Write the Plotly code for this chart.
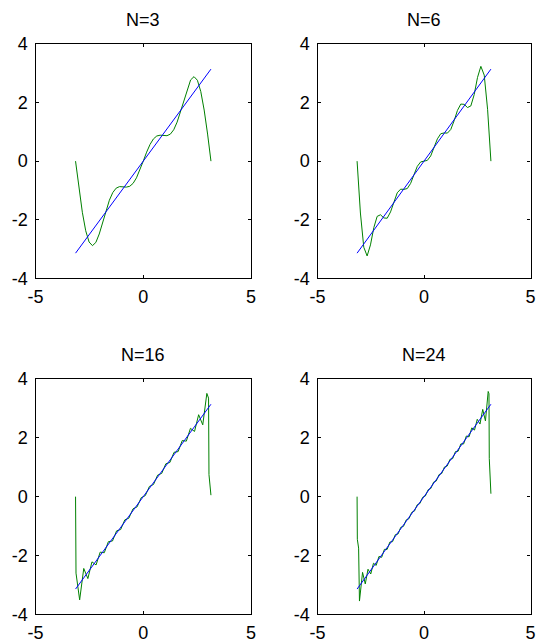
import plotly.graph_objects as go

# ---- data ----
titles = ["N=3", "N=6", "N=16", "N=24"]

line_x = [-3.1416, 3.1416]
line_y = [-3.1416, 3.1416]

x3 = [-3.142, -2.985, -2.827, -2.670, -2.513, -2.356, -2.199, -2.042, -1.885, -1.728,
      -1.571, -1.414, -1.257, -1.100, -0.942, -0.785, -0.628, -0.471, -0.314, -0.157,
      0.0, 0.157, 0.314, 0.471, 0.628, 0.785, 0.942, 1.100, 1.257, 1.414,
      1.571, 1.728, 1.885, 2.042, 2.199, 2.356, 2.513, 2.670, 2.827, 2.985, 3.142]
y3 = [0.0, -0.925, -1.745, -2.376, -2.761, -2.886, -2.775, -2.487, -2.098, -1.690,
      -1.333, -1.072, -0.922, -0.869, -0.873, -0.886, -0.859, -0.758, -0.570, -0.307,
      0.0, 0.307, 0.570, 0.758, 0.859, 0.886, 0.873, 0.869, 0.922, 1.072,
      1.333, 1.690, 2.098, 2.487, 2.775, 2.886, 2.761, 2.376, 1.745, 0.925, 0.0]

x6 = [-3.142, -2.985, -2.827, -2.670, -2.513, -2.356, -2.199, -2.042, -1.885, -1.728,
      -1.571, -1.414, -1.257, -1.100, -0.942, -0.785, -0.628, -0.471, -0.314, -0.157,
      0.0, 0.157, 0.314, 0.471, 0.628, 0.785, 0.942, 1.100, 1.257, 1.414,
      1.571, 1.728, 1.885, 2.042, 2.199, 2.356, 2.513, 2.670, 2.827, 2.985, 3.142]
y6 = [0.0, -1.771, -2.938, -3.237, -2.859, -2.270, -1.885, -1.831, -1.940, -1.949,
      -1.733, -1.379, -1.081, -0.958, -0.963, -0.936, -0.761, -0.462, -0.177, -0.026,
      0.0, 0.026, 0.177, 0.462, 0.761, 0.936, 0.963, 0.958, 1.081, 1.379,
      1.733, 1.949, 1.940, 1.831, 1.885, 2.270, 2.859, 3.237, 2.938, 1.771, 0.0]

x16 = [-3.1416, -3.12, -2.9512, -2.7608, -2.5704, -2.3800, -2.1896, -1.9992, -1.8088,
       -1.6184, -1.4280, -1.2376, -1.0472, -0.8568, -0.6664, -0.4760, -0.2856, -0.0952,
       0.0952, 0.2856, 0.4760, 0.6664, 0.8568, 1.0472, 1.2376, 1.4280, 1.6184,
       1.8088, 1.9992, 2.1896, 2.3800, 2.5704, 2.7608, 2.9512, 3.03, 3.05, 3.1416]
y16 = [0.0, -2.6, -3.51, -2.441, -2.786, -2.217, -2.322, -1.887, -1.907,
       -1.531, -1.508, -1.163, -1.117, -0.790, -0.731, -0.414, -0.347, -0.035,
       0.035, 0.347, 0.414, 0.731, 0.790, 1.117, 1.163, 1.508, 1.531,
       1.907, 1.887, 2.322, 2.217, 2.786, 2.441, 3.51, 3.35, 0.75, 0.05]

x24 = [-3.1416, -3.13, -3.07, -3.03, -2.8851, -2.7569, -2.6287, -2.5004, -2.3722,
       -2.2440, -2.1157, -1.9875, -1.8593, -1.7310, -1.6028, -1.4746, -1.3464,
       -1.2181, -1.0899, -0.9617, -0.8334, -0.7052, -0.5770, -0.4488, -0.3205,
       -0.1923, -0.0641, 0.0641, 0.1923, 0.3205, 0.4488, 0.5770, 0.7052, 0.8334,
       0.9617, 1.0899, 1.2181, 1.3464, 1.4746, 1.6028, 1.7310, 1.8593, 1.9875,
       2.1157, 2.2440, 2.3722, 2.5004, 2.6287, 2.7569, 2.8851, 3.0134, 3.05,
       3.065, 3.1416]
y24 = [0.0, -1.45, -1.75, -3.55, -2.575, -2.967, -2.468, -2.630, -2.264,
       -2.338, -2.033, -2.062, -1.791, -1.794, -1.544, -1.530, -1.294,
       -1.268, -1.042, -1.008, -0.789, -0.749, -0.534, -0.491, -0.279,
       -0.233, -0.023, 0.023, 0.233, 0.279, 0.491, 0.534, 0.749, 0.789,
       1.008, 1.042, 1.268, 1.294, 1.530, 1.544, 1.794, 1.791, 2.062,
       2.033, 2.338, 2.264, 2.630, 2.468, 2.967, 2.575, 3.576, 3.5,
       1.3, 0.1]

x_ticks = [-5, 0, 5]
x_ticktext = ["-5", "0", "5"]
y_ticks = [-4, -2, 0, 2, 4]
y_ticktext = ["-4", "-2", "0", "2", "4"]

series = [(x3, y3), (x6, y6), (x16, y16), (x24, y24)]

# ---- layout ----
W, H = 542, 644
xdom = [[35.5 / W, 251 / W], [317.5 / W, 530.5 / W]]
ydom = [[1 - 278.3 / H, 1 - 44 / H], [1 - 614.3 / H, 1 - 379 / H]]

green = "rgb(0,128,0)"
blue = "rgb(0,0,255)"
font = dict(family="Liberation Sans, Arial, sans-serif", size=18, color="black")

fig = go.Figure()
layout = dict(width=W, height=H, margin=dict(l=0, r=0, t=0, b=0),
              plot_bgcolor="white", paper_bgcolor="white", showlegend=False,
              font=font, template="none", hovermode=False)
annotations = []
for i, (xs, ys) in enumerate(series):
    r, c = divmod(i, 2)
    n = i + 1
    xa = "x" if n == 1 else f"x{n}"
    ya = "y" if n == 1 else f"y{n}"
    fig.add_trace(go.Scatter(x=xs, y=ys, mode="lines", xaxis=xa, yaxis=ya,
                             line=dict(color=green, width=1)))
    fig.add_trace(go.Scatter(x=line_x, y=line_y, mode="lines", xaxis=xa, yaxis=ya,
                             line=dict(color=blue, width=1)))
    common = dict(showline=True, linecolor="black", linewidth=1.3, mirror="ticks",
                  ticks="inside", ticklen=3, tickwidth=1, tickcolor="black",
                  showgrid=False, zeroline=False, tickfont=font)
    layout["xaxis" if n == 1 else f"xaxis{n}"] = dict(
        domain=xdom[c], range=[-5, 5], anchor=ya, tickvals=x_ticks,
        ticktext=x_ticktext, ticklabelstandoff=2, **common)
    layout["yaxis" if n == 1 else f"yaxis{n}"] = dict(
        domain=ydom[r], range=[-4, 4], anchor=xa, tickvals=y_ticks,
        ticktext=y_ticktext, ticklabelstandoff=3, **common)
    cx = (xdom[c][0] + xdom[c][1]) / 2
    ty = 1 - (20 if r == 0 else 355) / H
    annotations.append(dict(text=titles[i], x=cx, y=ty, xref="paper", yref="paper",
                            xanchor="center", yanchor="middle", showarrow=False,
                            font=font))
layout["annotations"] = annotations
fig.update_layout(**layout)
fig.write_html("out.html", config={"displayModeBar": False},
               post_script="document.body.style.margin='0';")
